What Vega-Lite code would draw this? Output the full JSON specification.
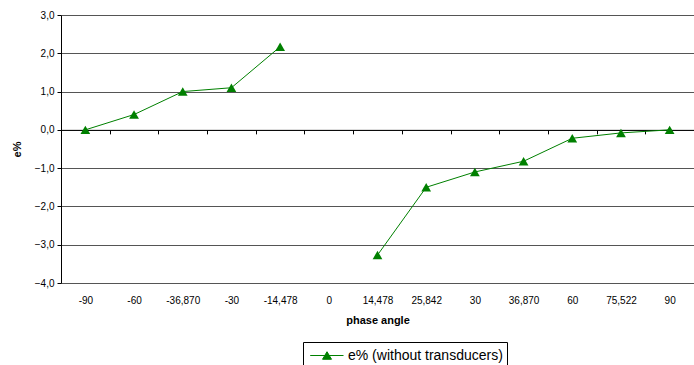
{
  "$schema": "https://vega.github.io/schema/vega-lite/v6.json",
  "width": 633,
  "height": 268,
  "autosize": {"type": "none"},
  "padding": {"left": 61, "top": 15, "right": 0, "bottom": 82},
  "background": "white",
  "config": {
    "view": {"stroke": null},
    "font": "Liberation Sans",
    "axis": {"labelFont": "Liberation Sans", "titleFont": "Liberation Sans", "labelColor": "#000", "titleColor": "#000"}
  },
  "data": {
    "values": [
      {"angle": "-90", "e": 0.0, "seg": "a", "series": "e% (without transducers)"},
      {"angle": "-60", "e": 0.4, "seg": "a", "series": "e% (without transducers)"},
      {"angle": "-36,870", "e": 1.0, "seg": "a", "series": "e% (without transducers)"},
      {"angle": "-30", "e": 1.1, "seg": "a", "series": "e% (without transducers)"},
      {"angle": "-14,478", "e": 2.17, "seg": "a", "series": "e% (without transducers)"},
      {"angle": "14,478", "e": -3.27, "seg": "b", "series": "e% (without transducers)"},
      {"angle": "25,842", "e": -1.5, "seg": "b", "series": "e% (without transducers)"},
      {"angle": "30", "e": -1.1, "seg": "b", "series": "e% (without transducers)"},
      {"angle": "36,870", "e": -0.82, "seg": "b", "series": "e% (without transducers)"},
      {"angle": "60", "e": -0.22, "seg": "b", "series": "e% (without transducers)"},
      {"angle": "75,522", "e": -0.08, "seg": "b", "series": "e% (without transducers)"},
      {"angle": "90", "e": 0.0, "seg": "b", "series": "e% (without transducers)"}
    ]
  },
  "encoding": {
    "x": {
      "field": "angle",
      "type": "ordinal",
      "sort": null,
      "scale": {"type": "band", "paddingInner": 0, "paddingOuter": 0,
        "domain": ["-90", "-60", "-36,870", "-30", "-14,478", "0", "14,478", "25,842", "30", "36,870", "60", "75,522", "90"]},
      "axis": {
        "title": "phase angle",
        "titleFontSize": 11,
        "titleFontWeight": "bold",
        "titlePadding": 9,
        "labelAngle": 0,
        "labelFontSize": 10,
        "labelPadding": 162,
        "offset": -153.14,
        "tickBand": "extent",
        "tickSize": 4,
        "tickColor": "#000",
        "domainColor": "#000",
        "grid": false
      }
    },
    "y": {
      "field": "e",
      "type": "quantitative",
      "scale": {"domain": [-4, 3], "nice": false, "zero": false},
      "axis": {
        "title": "e%",
        "titleFontSize": 11,
        "titleFontWeight": "bold",
        "titlePadding": 12,
        "values": [-4, -3, -2, -1, 0, 1, 2, 3],
        "labelExpr": "replace(format(datum.value, '.1f'), '.', ',')",
        "labelFontSize": 10,
        "labelPadding": 3,
        "tickSize": 4,
        "tickColor": "#000",
        "domainColor": "#000",
        "grid": true,
        "gridColor": "#555",
        "gridOpacity": 1,
        "gridWidth": 1
      }
    },
    "color": {
      "field": "series",
      "type": "nominal",
      "scale": {"range": ["#008000"]},
      "legend": {
        "title": null,
        "orient": "none",
        "legendX": 242,
        "legendY": 327,
        "strokeColor": "#000",
        "fillColor": "white",
        "padding": 4,
        "labelFontSize": 14,
        "labelColor": "#000",
        "labelFont": "Liberation Sans",
        "labelOffset": 22,
        "symbolType": "M-0.7,0L3,0M0.67,0.42L1.17,-0.42L1.67,0.42Z",
        "symbolSize": 324,
        "symbolStrokeWidth": 1,
        "symbolFillColor": "#008000",
        "symbolStrokeColor": "#008000"
      }
    }
  },
  "layer": [
    {
      "mark": {"type": "line", "strokeWidth": 1},
      "encoding": {"detail": {"field": "seg"}}
    },
    {
      "mark": {"type": "point", "shape": "triangle-up", "filled": true, "size": 95, "opacity": 1}
    }
  ]
}
